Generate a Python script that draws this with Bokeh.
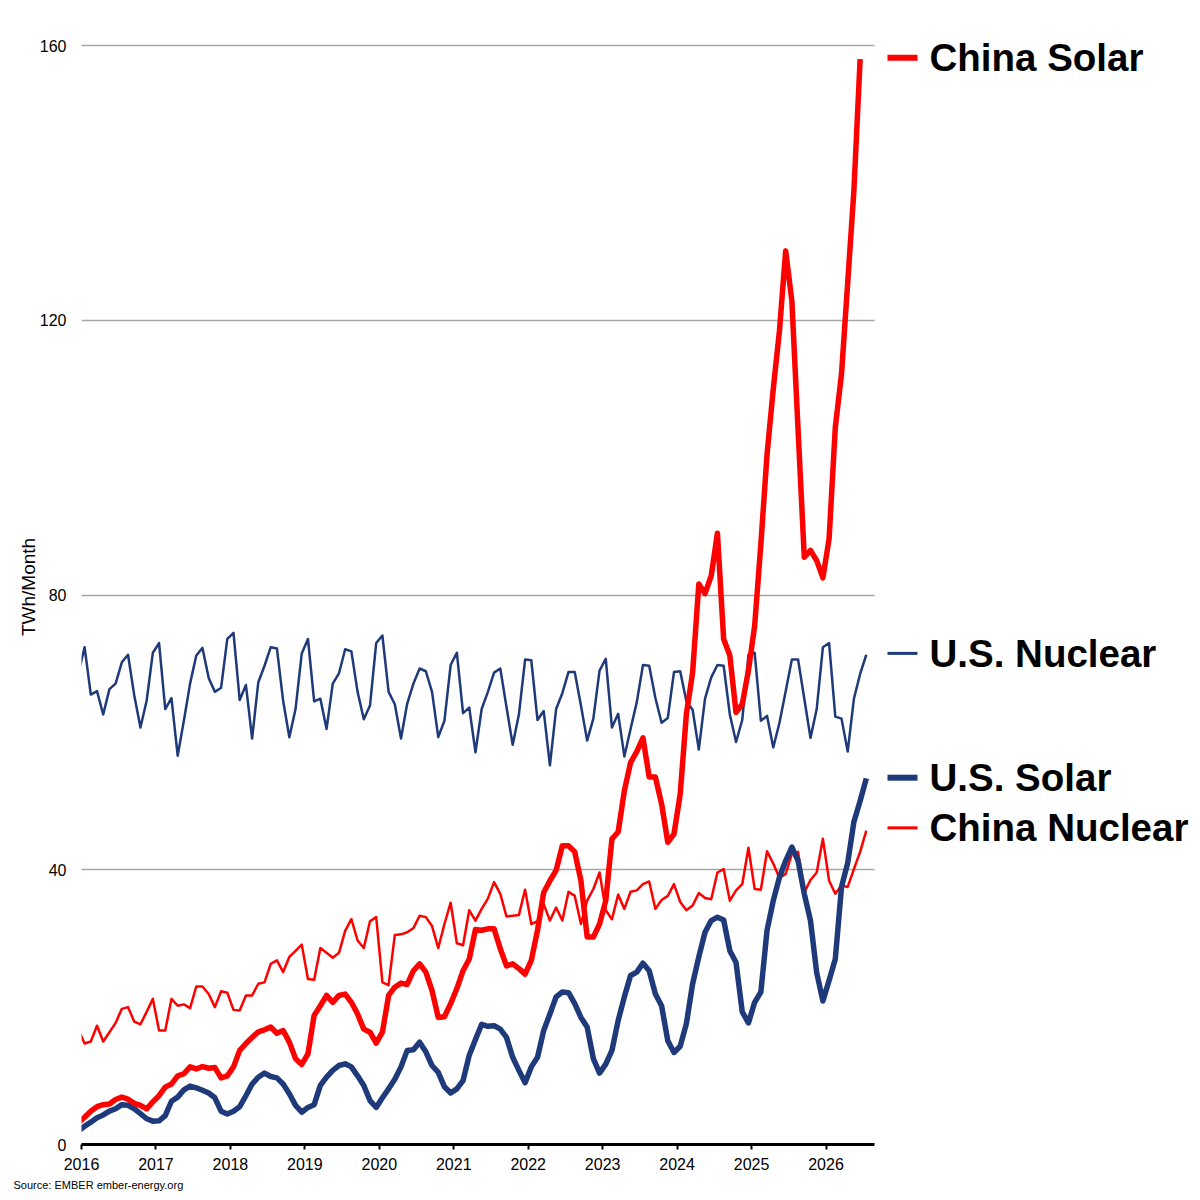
from bokeh.plotting import figure
from bokeh.models import Range1d, FixedTicker, Title
from bokeh.core.properties import value
from bokeh.embed import file_html
from bokeh.resources import INLINE

# ---------------- data (TWh per month), Dec 2015 .. Jul 2026 ----------------
us_nuclear = [
    68.6,
    72.4, 65.5, 66.0, 62.6, 66.3, 67.1, 70.2, 71.3, 65.4, 60.7, 64.6, 71.6,
    73.0, 63.4, 65.0, 56.6, 61.7, 67.1, 71.2, 72.3, 67.9, 65.9, 66.5, 73.6,
    74.5, 64.7, 66.9, 59.1, 67.3, 69.7, 72.4, 72.2, 64.6, 59.3, 63.4, 71.5,
    73.6, 64.5, 64.9, 60.5, 67.1, 68.6, 72.1, 71.8, 65.9, 61.9, 63.9, 73.0,
    74.1, 65.9, 64.1, 59.1, 64.2, 67.1, 69.3, 68.9, 65.9, 59.3, 61.7, 69.8,
    71.6, 62.8, 63.6, 57.1, 63.4, 65.9, 68.7, 69.3, 63.7, 58.2, 62.6, 70.6,
    70.5, 61.8, 63.1, 55.2, 63.4, 65.7, 68.8, 68.8, 63.9, 58.8, 62.0, 69.0,
    70.7, 60.7, 62.7, 56.5, 60.5, 64.4, 69.8, 69.7, 65.0, 61.4, 62.1, 68.8,
    68.9, 64.5, 63.3, 57.5, 64.9, 68.0, 69.8, 69.7, 62.6, 58.6, 61.8, 71.3,
    71.6, 61.7, 62.4, 57.8, 61.4, 66.0, 70.6, 70.6, 64.9, 59.2, 63.4, 72.4,
    73.0, 62.3, 62.0, 57.2, 64.9, 68.5, 71.3,
]
us_solar = [
    1.95,
    2.66, 3.25, 3.9, 4.3, 4.85, 5.2, 5.8, 5.7, 5.2, 4.5, 3.75, 3.4,
    3.44, 4.2, 6.3, 6.9, 7.95, 8.5, 8.25, 7.9, 7.5, 6.8, 4.85, 4.45,
    4.85, 5.5, 7.1, 8.8, 9.8, 10.4, 9.9, 9.7, 8.8, 7.4, 5.7, 4.7,
    5.4, 5.8, 8.6, 9.8, 10.8, 11.5, 11.75, 11.3, 10.0, 8.6, 6.4, 5.4,
    6.8, 8.1, 9.5, 11.3, 13.7, 13.8, 14.9, 13.5, 11.5, 10.5, 8.4, 7.5,
    8.1, 9.3, 13.0, 15.3, 17.5, 17.2, 17.3, 16.8, 15.6, 12.7, 10.8, 9.0,
    11.3, 12.7, 16.6, 19.0, 21.5, 22.2, 22.1, 20.5, 18.5, 17.1, 12.5, 10.4,
    11.7, 13.7, 18.05, 21.5, 24.6, 25.1, 26.4, 25.3, 21.9, 20.2, 15.1, 13.4,
    14.3, 17.6, 23.4, 27.3, 30.9, 32.6, 33.1, 32.7, 28.2, 26.5, 19.3, 17.7,
    20.7, 22.2, 31.2, 35.5, 38.9, 41.3, 43.3, 41.3, 36.5, 32.6, 25.0, 20.9,
    23.9, 27.0, 37.5, 41.0, 47.0, 50.0, 53.3,
]
china_solar = [
    3.2,
    3.97, 4.85, 5.5, 5.8, 5.9, 6.55, 6.9, 6.6, 6.0, 5.7, 5.2, 6.2,
    7.1, 8.35, 8.8, 10.0, 10.3, 11.3, 11.0, 11.35, 11.1, 11.2, 9.7, 10.0,
    11.3, 13.7, 14.7, 15.6, 16.4, 16.7, 17.1, 16.2, 16.6, 14.9, 12.5, 11.65,
    13.2, 18.8, 20.2, 21.7, 20.7, 21.7, 21.9, 20.7, 19.0, 16.8, 16.35, 14.75,
    16.35, 21.7, 22.9, 23.5, 23.3, 25.3, 26.3, 25.1, 22.4, 18.5, 18.6, 20.5,
    22.7, 25.3, 27.0, 31.3, 31.2, 31.4, 31.4, 28.5, 26.0, 26.3, 25.6, 24.8,
    26.8, 31.2, 36.7, 38.4, 39.9, 43.5, 43.5, 42.6, 38.4, 30.2, 30.2, 32.1,
    35.5, 44.5, 45.5, 51.5, 55.6, 57.2, 59.2, 53.5, 53.5, 49.6, 44.0, 45.2,
    51.0, 62.7, 68.7, 81.6, 80.2, 82.8, 89.0, 73.6, 71.2, 62.9, 64.1, 69.0,
    75.5, 87.4, 100.5, 110.0, 118.5, 130.1, 122.8, 104.0, 85.5, 86.5, 85.0, 82.5,
    88.2, 104.4, 112.2, 125.5, 138.9, 158.0,
]
china_nuclear = [
    16.7,
    14.7, 15.0, 17.3, 15.0, 16.35, 17.7, 19.75, 20.0, 17.9, 17.5, 19.3, 21.2,
    16.6, 16.6, 21.2, 20.2, 20.4, 19.85, 23.0, 23.0, 21.9, 20.0, 22.3, 22.1,
    19.6, 19.5, 21.7, 21.7, 23.4, 23.6, 26.3, 26.8, 25.1, 27.3, 28.2, 29.1,
    24.1, 24.0, 28.6, 27.9, 27.2, 27.9, 31.1, 32.8, 29.7, 28.6, 32.5, 33.1,
    23.6, 23.2, 30.5, 30.6, 30.9, 31.5, 33.3, 33.1, 31.8, 28.6, 32.1, 35.2,
    29.3, 29.0, 34.1, 32.6, 34.3, 35.8, 38.2, 36.5, 33.2, 33.3, 33.4, 37.1,
    32.1, 32.5, 35.0, 32.6, 34.5, 32.6, 36.8, 36.2, 32.1, 35.5, 37.2, 39.6,
    34.1, 32.8, 36.4, 34.3, 36.8, 37.0, 37.9, 38.3, 34.3, 35.6, 36.2, 37.9,
    35.3, 34.1, 34.8, 36.6, 35.9, 35.7, 39.6, 40.1, 35.5, 37.0, 37.9, 43.2,
    37.2, 37.1, 42.7, 40.9, 38.8, 39.4, 42.3, 42.6, 36.7, 38.5, 39.6, 44.5,
    38.4, 36.5, 37.7, 37.5, 40.1, 42.6, 45.7,
]
year_ticks = [2016, 2017, 2018, 2019, 2020, 2021, 2022, 2023, 2024, 2025, 2026]
year_labels = ["2016", "2017", "2018", "2019", "2020", "2021", "2022",
               "2023", "2024", "2025", "2026"]
y_ticks = [0, 40, 80, 120, 160]
series_names = ["China Solar", "U.S. Nuclear", "U.S. Solar", "China Nuclear"]
# vertical spots (in TWh units) of the end-of-line labels
label_levels = [158.2, 71.5, 53.4, 46.1]

# month mid-points as fractional years, first point = Dec 2015
def months(n):
    return [2015 + 11.5 / 12 + i / 12 for i in range(n)]

RED = "#ff0000"
NAVY = "#1f3a7a"
FONT = "Liberation Sans"

# ---------------- geometry ----------------
YEAR_PX = 74.45            # pixels per year on the x axis
UNIT_PX = 1099 / 160.0     # pixels per TWh on the y axis
X_END = 2026.65            # end of the drawn axis
BORDER_L, BORDER_T, BORDER_B = 81, 29, 52
FRAME_W, FRAME_H = 1110, 1115

def px_to_year(px):
    return 2016 + px / YEAR_PX

p = figure(frame_width=FRAME_W, frame_height=FRAME_H,
           min_border_left=BORDER_L, min_border_right=0,
           min_border_top=BORDER_T, min_border_bottom=BORDER_B,
           x_range=Range1d(2016, px_to_year(FRAME_W)),
           y_range=Range1d(0, FRAME_H / UNIT_PX),
           output_backend="svg", toolbar_location=None,
           background_fill_color="white", border_fill_color="white")
p.outline_line_color = None

# grid
p.xgrid.visible = False
p.ygrid.ticker = FixedTicker(ticks=y_ticks)
p.ygrid.bounds = (0, 160)
p.ygrid.cross_bounds = (2016, X_END)
p.ygrid.grid_line_color = "#a6a6a6"
p.ygrid.grid_line_width = 1.5

# x axis
xa = p.xaxis[0]
xa.ticker = FixedTicker(ticks=year_ticks)
xa.bounds = (2016, X_END)
xa.major_label_overrides = {t: l for t, l in zip(year_ticks, year_labels)}
xa.axis_line_color = "black"
xa.axis_line_width = 3
xa.major_tick_line_color = "black"
xa.major_tick_line_width = 2
xa.major_tick_out = 5
xa.major_tick_in = 0
xa.minor_tick_line_color = None
xa.major_label_standoff = 8
xa.major_label_text_font = FONT
xa.major_label_text_font_size = "16px"
xa.major_label_text_color = "black"

# y axis
ya = p.yaxis[0]
ya.ticker = FixedTicker(ticks=y_ticks)
ya.bounds = (0, 160)
ya.axis_line_color = None
ya.major_tick_line_color = None
ya.minor_tick_line_color = None
ya.major_tick_out = 0
ya.major_tick_in = 0
ya.major_label_standoff = 15
ya.major_label_text_font = FONT
ya.major_label_text_font_size = "16px"
ya.major_label_text_color = "black"
ya.axis_label = "TWh/Month"
ya.axis_label_text_font = FONT
ya.axis_label_text_font_size = "19px"
ya.axis_label_text_font_style = "normal"
ya.axis_label_text_color = "black"
ya.axis_label_standoff = -2

# source note under the axis
p.add_layout(Title(text="Source: EMBER ember-energy.org", align="left", offset=-68,
                   text_font=FONT, text_font_size="11px", text_font_style="normal",
                   text_color="black", standoff=8), "below")

# series lines
styles = [(china_solar, RED, 5.5), (us_nuclear, NAVY, 2.5),
          (us_solar, NAVY, 5.5), (china_nuclear, RED, 2.5)]
for vals, col, lw in [styles[1], styles[3], styles[2], styles[0]]:
    p.line(months(len(vals)), vals, line_color=col, line_width=lw, line_join="round")

# end-of-line key: short line + bold name, right of the plotting area
key_x0, key_x1, text_x = px_to_year(806), px_to_year(836), px_to_year(848)
for (vals, col, lw), name, lev in zip(styles, series_names, label_levels):
    p.segment(x0=[key_x0], y0=[lev], x1=[key_x1], y1=[lev], line_color=col, line_width=lw + 0.5)
    p.text(x=[text_x], y=[lev], text=[name], text_font=value(FONT), text_font_style="bold",
           text_font_size="38.5px", text_color="black", text_baseline="middle", text_align="left")

open("out.html", "w").write(file_html(p, INLINE))
